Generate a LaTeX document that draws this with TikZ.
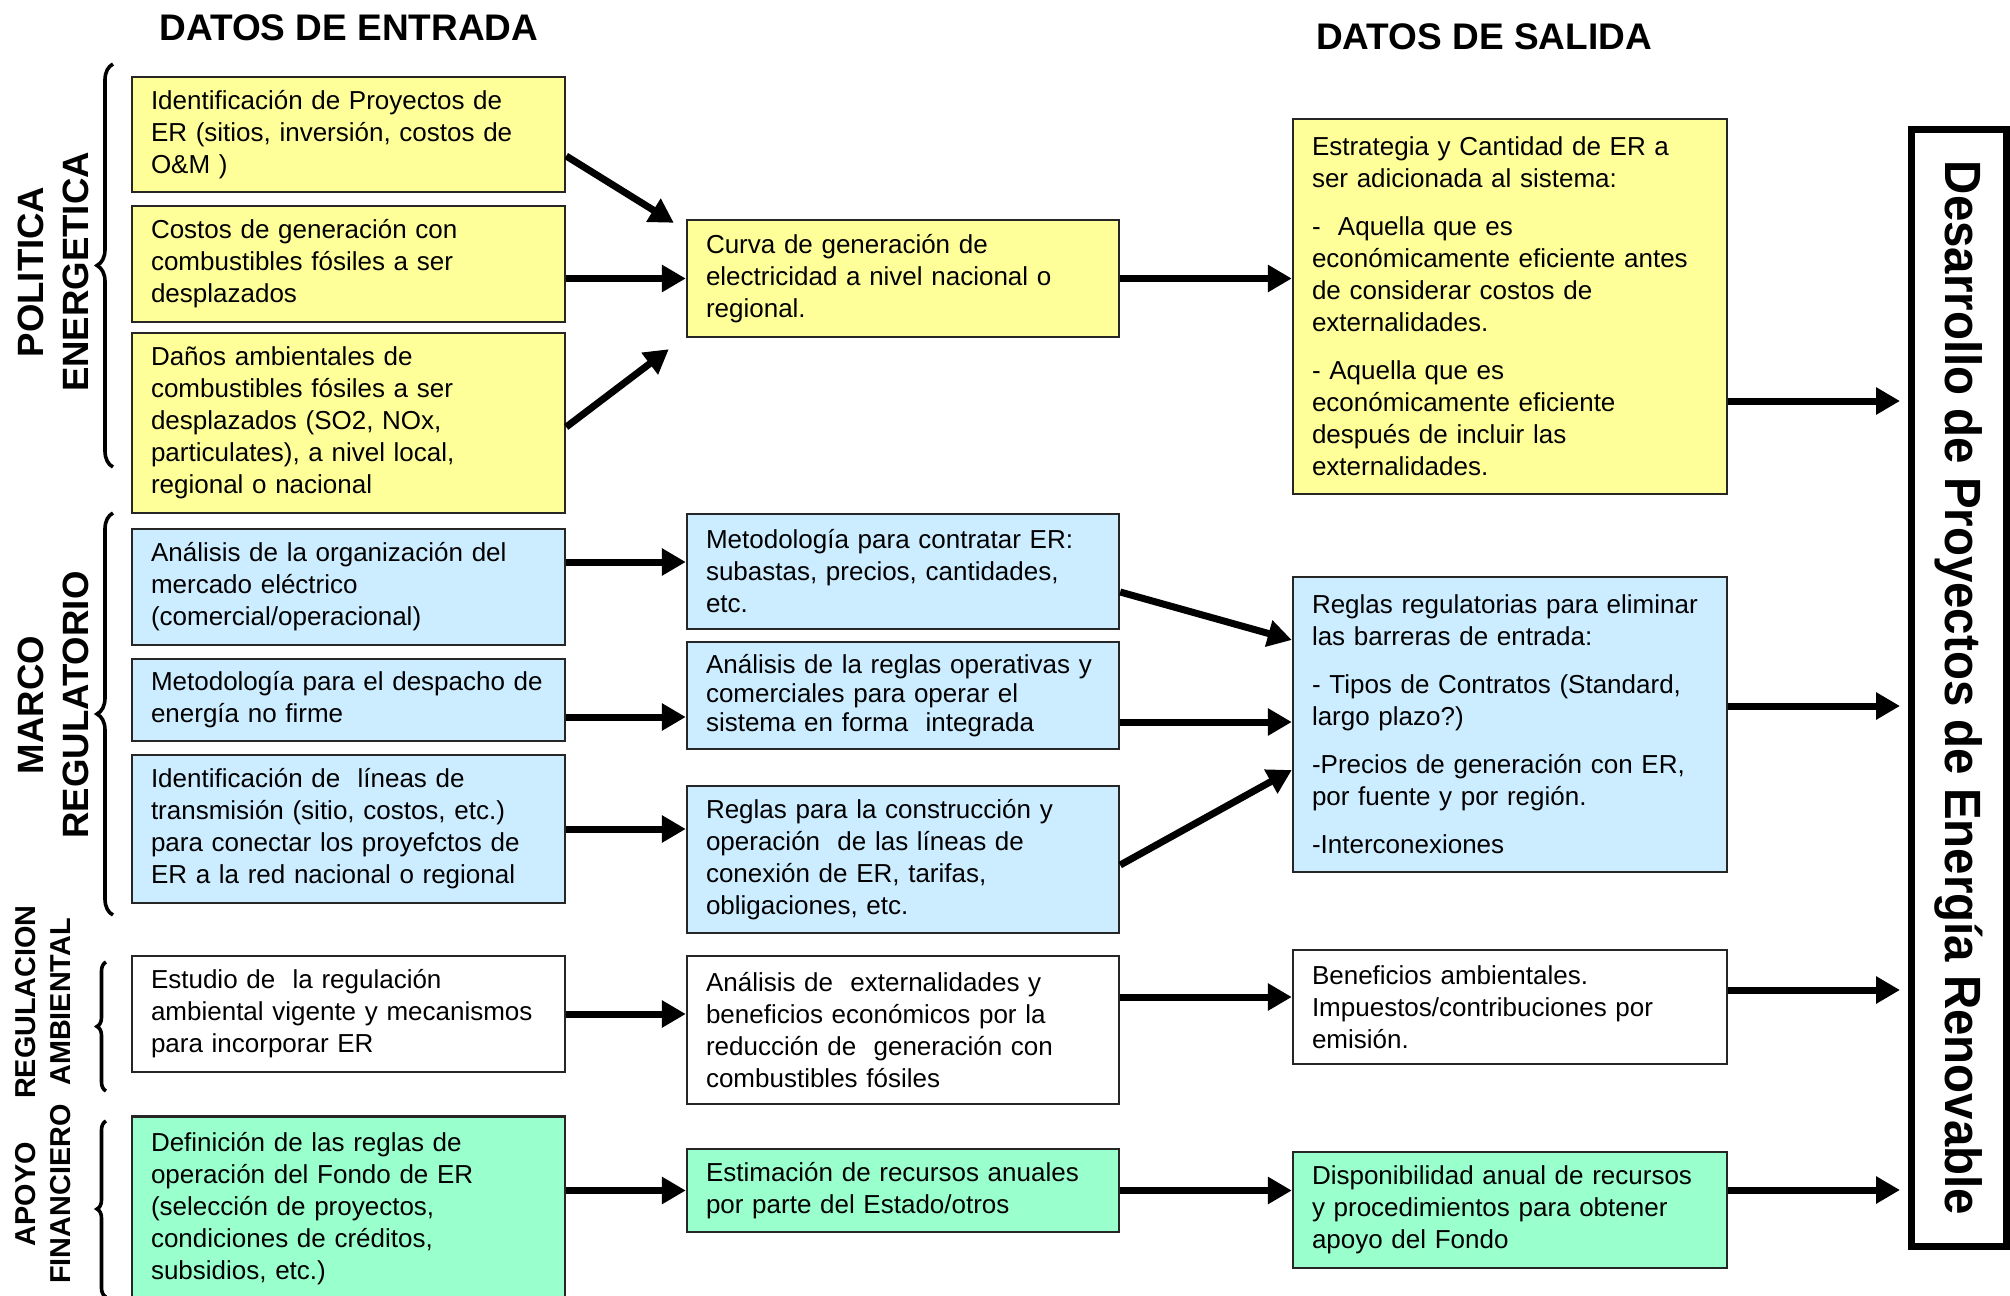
\documentclass[tikz,border=0pt]{standalone}
\usepackage{fontspec}
\setmainfont{Liberation Sans}
\usepackage{graphicx}
\usetikzlibrary{arrows.meta,decorations.pathreplacing}
\definecolor{amarillo}{HTML}{FFFF99}
\definecolor{celeste}{HTML}{CCECFF}
\definecolor{verde}{HTML}{99FFCC}

\begin{document}
\begin{tikzpicture}[x=0.5pt,y=-0.5pt,
    caja/.style={draw=black!85,line width=1.2pt,fill=#1,rectangle,
        text width=197.5pt,inner xsep=9.5pt,inner ysep=2pt,align=left,
        font=\fontsize{13}{16}\selectfont},
    caja/.default=white,
    flecha/.style={line width=3.5pt,-{Triangle[length=12pt,width=13pt]}},
    llave/.style={decorate,decoration={brace,amplitude=#1},line width=1.8pt},
    grupo/.style={rotate=90,align=center,font=\bfseries\fontsize{18.3}{22.5}\selectfont},
    subgrupo/.style={rotate=90,align=center,font=\bfseries\fontsize{14.4}{17.5}\selectfont},
    titulo/.style={anchor=base,font=\bfseries\fontsize{18.5}{22}\selectfont}]

    \useasboundingbox (0,0) rectangle (2010,1296);

    \node[titulo] (entrada) at (349,40) {DATOS DE ENTRADA};
    \node[titulo] (salida) at (1484,49) {DATOS DE SALIDA};

    \node[grupo] (politica) at (53,272) {POLITICA\\ENERGETICA};
    \node[grupo] (marco) at (53,705) {MARCO\\REGULATORIO};
    \node[subgrupo] (ambiental) at (42.5,1002) {REGULACION\\AMBIENTAL};
    \node[subgrupo] (apoyo) at (43.5,1194) {APOYO\\FINANCIERO};

    \draw[llave=8pt] (113,467) -- (113,64);
    \draw[llave=8pt] (113,915) -- (113,513);
    \draw[llave=4.5pt] (106,1091) -- (106,962);
    \draw[llave=4.5pt] (106,1297) -- (106,1121);

    \node[caja=amarillo,minimum height=57.5pt] (ident) at (348.5,134.5)
        {Identificación de Proyectos de\\ER (sitios, inversión, costos de\\O\&M )};
    \node[caja=amarillo,minimum height=58pt] (costos) at (348.5,264)
        {Costos de generación con\\combustibles fósiles a ser\\desplazados};
    \node[caja=amarillo,minimum height=90pt] (danos) at (348.5,423)
        {Daños ambientales de\\combustibles fósiles a ser\\desplazados (SO2, NOx,\\particulates), a nivel local,\\regional o nacional};
    \node[caja=celeste,minimum height=58pt] (mercado) at (348.5,587)
        {Análisis de la organización del\\mercado eléctrico\\(comercial/operacional)};
    \node[caja=celeste,minimum height=41pt] (despacho) at (348.5,700)
        {Metodología para el despacho de\\energía no firme};
    \node[caja=celeste,minimum height=74pt] (lineas) at (348.5,829)
        {Identificación de~ líneas de\\transmisión (sitio, costos, etc.)\\para conectar los proyefctos de\\ER a la red nacional o regional};
    \node[caja,minimum height=58pt] (estudio) at (348.5,1014)
        {Estudio de~ la regulación\\ambiental vigente y mecanismos\\para incorporar ER};
    \node[caja=verde,minimum height=92.5pt] (fondo) at (348.5,1209)
        {Definición de las reglas de\\operación del Fondo de ER\\(selección de proyectos,\\condiciones de créditos,\\subsidios, etc.)};

    \node[caja=amarillo,text width=197pt,minimum height=58.5pt] (curva) at (903,278.5)
        {Curva de generación de\\electricidad a nivel nacional o\\regional.};
    \node[caja=celeste,text width=197pt,minimum height=57.5pt] (contratar) at (903,571.5)
        {Metodología para contratar ER:\\subastas, precios, cantidades,\\etc.};
    \node[caja=celeste,text width=197pt,minimum height=53.5pt,font=\fontsize{13}{14.5}\selectfont] (operativas) at (903,695.5)
        {Análisis de la reglas operativas y\\comerciales para operar el\\sistema en forma~ integrada};
    \node[caja=celeste,text width=197pt,minimum height=73.5pt] (construccion) at (903,859.5)
        {Reglas para la construcción y\\operación~ de las líneas de\\conexión de ER, tarifas,\\obligaciones, etc.};
    \node[caja,text width=197pt,minimum height=74pt] (externalidades) at (903,1030)
        {Análisis de~ externalidades y\\beneficios económicos por la\\reducción de~ generación con\\combustibles fósiles};
    \node[caja=verde,text width=197pt,minimum height=41.5pt] (estimacion) at (903,1190.5)
        {Estimación de recursos anuales\\por parte del Estado/otros};

    \node[caja=amarillo,text width=198pt,minimum height=187.5pt] (estrategia) at (1510,306.5)
        {Estrategia y Cantidad de ER a\\ser adicionada al sistema:\\[8pt]-~ Aquella que es\\económicamente eficiente antes\\de considerar costos de\\externalidades.\\[8pt]- Aquella que es\\económicamente eficiente\\después de incluir las\\externalidades.};
    \node[caja=celeste,text width=198pt,minimum height=147.5pt] (barreras) at (1510,724.5)
        {Reglas regulatorias para eliminar\\las barreras de entrada:\\[8pt]- Tipos de Contratos (Standard,\\largo plazo?)\\[8pt]-Precios de generación con ER,\\por fuente y por región.\\[8pt]-Interconexiones};
    \node[caja,text width=198pt,minimum height=57pt] (beneficios) at (1510,1007)
        {Beneficios ambientales.\\Impuestos/contribuciones por\\emisión.};
    \node[caja=verde,text width=198pt,minimum height=58pt] (disponibilidad) at (1510,1210)
        {Disponibilidad anual de recursos\\y procedimientos para obtener\\apoyo del Fondo};

    \node[draw,line width=3.5pt,minimum width=47.5pt,minimum height=558.5pt,inner sep=0pt] (desarrollo) at (1959,688)
        {\rotatebox{-90}{\scalebox{0.93}[1]{\bfseries\fontsize{25.5}{30}\selectfont Desarrollo de Proyectos de Energía Renovable}}};

    \coordinate (s4) at ([yshift=12.5pt]mercado.east);
    \coordinate (s5) at ([yshift=-8.5pt]despacho.east);
    \coordinate (s9) at ([yshift=-13.25pt]operativas.east);
    \coordinate (s11) at ([yshift=16.5pt]externalidades.east);
    \coordinate (o1) at ([yshift=-47.25pt]estrategia.east);
    \coordinate (o2) at ([yshift=9.25pt]barreras.east);
    \coordinate (o3) at ([yshift=8.5pt]beneficios.east);
    \coordinate (o4) at ([yshift=10pt]disponibilidad.east);
    \coordinate (meta) at ([xshift=-4pt]desarrollo.west);

    \draw[flecha] ([yshift=-10.75pt]ident.east) -- ([xshift=-6pt,yshift=-2pt]curva.north west);
    \draw[flecha] (costos.east |- curva.west) -- (curva.west);
    \draw[flecha] ([yshift=-2pt]danos.east) -- ([xshift=-8.5pt,yshift=-5.5pt]curva.south west);
    \draw[flecha] (s4) -- (s4 -| contratar.west);
    \draw[flecha] (s5) -- (s5 -| operativas.west);
    \draw[flecha] (lineas.east) -- (lineas.east -| construccion.west);
    \draw[flecha] (estudio.east) -- (estudio.east -| externalidades.west);
    \draw[flecha] (fondo.east |- estimacion.west) -- (estimacion.west);

    \draw[flecha] (curva.east) -- (curva.east -| estrategia.west);
    \draw[flecha] ([yshift=-10.25pt]contratar.east) -- ([yshift=42.25pt]barreras.west);
    \draw[flecha] (s9) -- (s9 -| barreras.west);
    \draw[flecha] ([yshift=-2.75pt]construccion.east) -- ([yshift=-22.75pt]barreras.west);
    \draw[flecha] (s11) -- (s11 -| beneficios.west);
    \draw[flecha] (estimacion.east) -- (estimacion.east -| disponibilidad.west);

    \draw[flecha] (o1) -- (o1 -| meta);
    \draw[flecha] (o2) -- (o2 -| meta);
    \draw[flecha] (o3) -- (o3 -| meta);
    \draw[flecha] (o4) -- (o4 -| meta);
\end{tikzpicture}
\end{document}
